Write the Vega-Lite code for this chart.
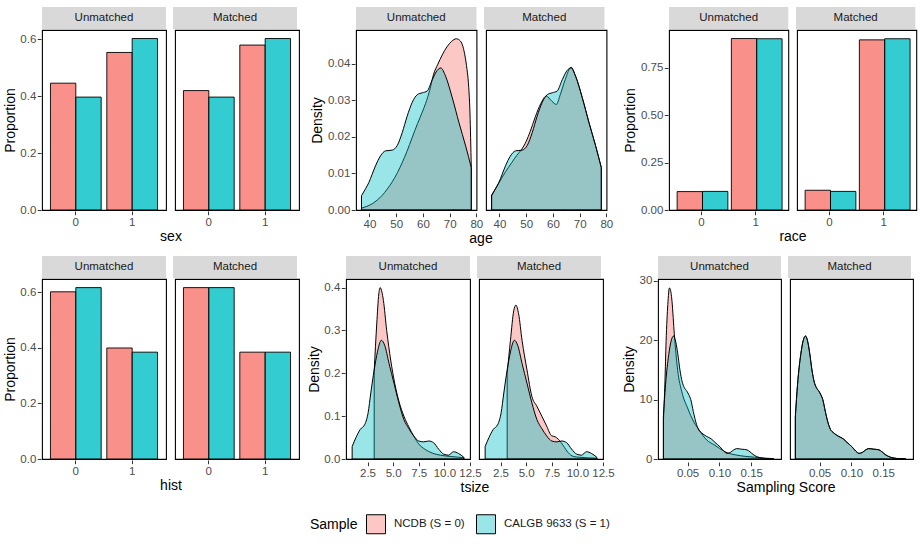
{
  "$schema": "https://vega.github.io/schema/vega-lite/v6.json",
  "padding": {"left": 3, "top": 7, "right": 3, "bottom": 3},
  "background": "white",
  "datasets": {
    "strips": [{"cond": "Unmatched"}, {"cond": "Matched"}],
    "bars": [
      {"v": "sex", "cond": "Unmatched", "val": "0", "s": "NCDB (S = 0)", "p": 0.446},
      {"v": "sex", "cond": "Unmatched", "val": "0", "s": "CALGB 9633 (S = 1)", "p": 0.397},
      {"v": "sex", "cond": "Unmatched", "val": "1", "s": "NCDB (S = 0)", "p": 0.554},
      {"v": "sex", "cond": "Unmatched", "val": "1", "s": "CALGB 9633 (S = 1)", "p": 0.603},
      {"v": "sex", "cond": "Matched", "val": "0", "s": "NCDB (S = 0)", "p": 0.42},
      {"v": "sex", "cond": "Matched", "val": "0", "s": "CALGB 9633 (S = 1)", "p": 0.397},
      {"v": "sex", "cond": "Matched", "val": "1", "s": "NCDB (S = 0)", "p": 0.58},
      {"v": "sex", "cond": "Matched", "val": "1", "s": "CALGB 9633 (S = 1)", "p": 0.603},
      {"v": "race", "cond": "Unmatched", "val": "0", "s": "NCDB (S = 0)", "p": 0.097},
      {"v": "race", "cond": "Unmatched", "val": "0", "s": "CALGB 9633 (S = 1)", "p": 0.098},
      {"v": "race", "cond": "Unmatched", "val": "1", "s": "NCDB (S = 0)", "p": 0.903},
      {"v": "race", "cond": "Unmatched", "val": "1", "s": "CALGB 9633 (S = 1)", "p": 0.902},
      {"v": "race", "cond": "Matched", "val": "0", "s": "NCDB (S = 0)", "p": 0.104},
      {"v": "race", "cond": "Matched", "val": "0", "s": "CALGB 9633 (S = 1)", "p": 0.098},
      {"v": "race", "cond": "Matched", "val": "1", "s": "NCDB (S = 0)", "p": 0.896},
      {"v": "race", "cond": "Matched", "val": "1", "s": "CALGB 9633 (S = 1)", "p": 0.902},
      {"v": "hist", "cond": "Unmatched", "val": "0", "s": "NCDB (S = 0)", "p": 0.601},
      {"v": "hist", "cond": "Unmatched", "val": "0", "s": "CALGB 9633 (S = 1)", "p": 0.616},
      {"v": "hist", "cond": "Unmatched", "val": "1", "s": "NCDB (S = 0)", "p": 0.399},
      {"v": "hist", "cond": "Unmatched", "val": "1", "s": "CALGB 9633 (S = 1)", "p": 0.384},
      {"v": "hist", "cond": "Matched", "val": "0", "s": "NCDB (S = 0)", "p": 0.616},
      {"v": "hist", "cond": "Matched", "val": "0", "s": "CALGB 9633 (S = 1)", "p": 0.616},
      {"v": "hist", "cond": "Matched", "val": "1", "s": "NCDB (S = 0)", "p": 0.384},
      {"v": "hist", "cond": "Matched", "val": "1", "s": "CALGB 9633 (S = 1)", "p": 0.384}
    ],
    "dens": [
      {"v": "age", "cond": "Unmatched", "s": "NCDB (S = 0)", "x": 37, "d": 0.0005},
      {"v": "age", "cond": "Unmatched", "s": "NCDB (S = 0)", "x": 39, "d": 0.001},
      {"v": "age", "cond": "Unmatched", "s": "NCDB (S = 0)", "x": 41, "d": 0.0017},
      {"v": "age", "cond": "Unmatched", "s": "NCDB (S = 0)", "x": 43, "d": 0.0028},
      {"v": "age", "cond": "Unmatched", "s": "NCDB (S = 0)", "x": 44.75, "d": 0.004},
      {"v": "age", "cond": "Unmatched", "s": "NCDB (S = 0)", "x": 46.6, "d": 0.0057},
      {"v": "age", "cond": "Unmatched", "s": "NCDB (S = 0)", "x": 48.5, "d": 0.0077},
      {"v": "age", "cond": "Unmatched", "s": "NCDB (S = 0)", "x": 50.5, "d": 0.0103},
      {"v": "age", "cond": "Unmatched", "s": "NCDB (S = 0)", "x": 52.25, "d": 0.013},
      {"v": "age", "cond": "Unmatched", "s": "NCDB (S = 0)", "x": 54, "d": 0.016},
      {"v": "age", "cond": "Unmatched", "s": "NCDB (S = 0)", "x": 56, "d": 0.0199},
      {"v": "age", "cond": "Unmatched", "s": "NCDB (S = 0)", "x": 58, "d": 0.0237},
      {"v": "age", "cond": "Unmatched", "s": "NCDB (S = 0)", "x": 59.75, "d": 0.0268},
      {"v": "age", "cond": "Unmatched", "s": "NCDB (S = 0)", "x": 61, "d": 0.0292},
      {"v": "age", "cond": "Unmatched", "s": "NCDB (S = 0)", "x": 62.5, "d": 0.0327},
      {"v": "age", "cond": "Unmatched", "s": "NCDB (S = 0)", "x": 64, "d": 0.0372},
      {"v": "age", "cond": "Unmatched", "s": "NCDB (S = 0)", "x": 65.5, "d": 0.0398},
      {"v": "age", "cond": "Unmatched", "s": "NCDB (S = 0)", "x": 67.25, "d": 0.0425},
      {"v": "age", "cond": "Unmatched", "s": "NCDB (S = 0)", "x": 69, "d": 0.0447},
      {"v": "age", "cond": "Unmatched", "s": "NCDB (S = 0)", "x": 70.75, "d": 0.0462},
      {"v": "age", "cond": "Unmatched", "s": "NCDB (S = 0)", "x": 72.5, "d": 0.0469},
      {"v": "age", "cond": "Unmatched", "s": "NCDB (S = 0)", "x": 74, "d": 0.0463},
      {"v": "age", "cond": "Unmatched", "s": "NCDB (S = 0)", "x": 75, "d": 0.0447},
      {"v": "age", "cond": "Unmatched", "s": "NCDB (S = 0)", "x": 75.75, "d": 0.0422},
      {"v": "age", "cond": "Unmatched", "s": "NCDB (S = 0)", "x": 76.5, "d": 0.0385},
      {"v": "age", "cond": "Unmatched", "s": "NCDB (S = 0)", "x": 77, "d": 0.035},
      {"v": "age", "cond": "Unmatched", "s": "NCDB (S = 0)", "x": 77.6, "d": 0.0266},
      {"v": "age", "cond": "Unmatched", "s": "NCDB (S = 0)", "x": 78.1, "d": 0.0116},
      {"v": "age", "cond": "Unmatched", "s": "CALGB 9633 (S = 1)", "x": 37, "d": 0.0039},
      {"v": "age", "cond": "Unmatched", "s": "CALGB 9633 (S = 1)", "x": 38.5, "d": 0.0058},
      {"v": "age", "cond": "Unmatched", "s": "CALGB 9633 (S = 1)", "x": 39.75, "d": 0.0075},
      {"v": "age", "cond": "Unmatched", "s": "CALGB 9633 (S = 1)", "x": 41, "d": 0.0098},
      {"v": "age", "cond": "Unmatched", "s": "CALGB 9633 (S = 1)", "x": 42.25, "d": 0.0121},
      {"v": "age", "cond": "Unmatched", "s": "CALGB 9633 (S = 1)", "x": 44.1, "d": 0.0148},
      {"v": "age", "cond": "Unmatched", "s": "CALGB 9633 (S = 1)", "x": 46, "d": 0.0162},
      {"v": "age", "cond": "Unmatched", "s": "CALGB 9633 (S = 1)", "x": 47.3, "d": 0.0163},
      {"v": "age", "cond": "Unmatched", "s": "CALGB 9633 (S = 1)", "x": 48.5, "d": 0.0164},
      {"v": "age", "cond": "Unmatched", "s": "CALGB 9633 (S = 1)", "x": 50.4, "d": 0.0177},
      {"v": "age", "cond": "Unmatched", "s": "CALGB 9633 (S = 1)", "x": 52.25, "d": 0.0212},
      {"v": "age", "cond": "Unmatched", "s": "CALGB 9633 (S = 1)", "x": 54.1, "d": 0.0257},
      {"v": "age", "cond": "Unmatched", "s": "CALGB 9633 (S = 1)", "x": 56, "d": 0.0295},
      {"v": "age", "cond": "Unmatched", "s": "CALGB 9633 (S = 1)", "x": 57.9, "d": 0.0316},
      {"v": "age", "cond": "Unmatched", "s": "CALGB 9633 (S = 1)", "x": 59.75, "d": 0.0321},
      {"v": "age", "cond": "Unmatched", "s": "CALGB 9633 (S = 1)", "x": 61.6, "d": 0.0326},
      {"v": "age", "cond": "Unmatched", "s": "CALGB 9633 (S = 1)", "x": 63.5, "d": 0.0357},
      {"v": "age", "cond": "Unmatched", "s": "CALGB 9633 (S = 1)", "x": 65.4, "d": 0.0383},
      {"v": "age", "cond": "Unmatched", "s": "CALGB 9633 (S = 1)", "x": 66.7, "d": 0.0389},
      {"v": "age", "cond": "Unmatched", "s": "CALGB 9633 (S = 1)", "x": 68.5, "d": 0.0366},
      {"v": "age", "cond": "Unmatched", "s": "CALGB 9633 (S = 1)", "x": 71, "d": 0.0307},
      {"v": "age", "cond": "Unmatched", "s": "CALGB 9633 (S = 1)", "x": 73.5, "d": 0.0239},
      {"v": "age", "cond": "Unmatched", "s": "CALGB 9633 (S = 1)", "x": 76, "d": 0.0175},
      {"v": "age", "cond": "Unmatched", "s": "CALGB 9633 (S = 1)", "x": 78.1, "d": 0.0116},
      {"v": "age", "cond": "Matched", "s": "NCDB (S = 0)", "x": 37.1, "d": 0.0041},
      {"v": "age", "cond": "Matched", "s": "NCDB (S = 0)", "x": 39.6, "d": 0.0072},
      {"v": "age", "cond": "Matched", "s": "NCDB (S = 0)", "x": 42.1, "d": 0.0103},
      {"v": "age", "cond": "Matched", "s": "NCDB (S = 0)", "x": 44.6, "d": 0.013},
      {"v": "age", "cond": "Matched", "s": "NCDB (S = 0)", "x": 46.5, "d": 0.015},
      {"v": "age", "cond": "Matched", "s": "NCDB (S = 0)", "x": 48.2, "d": 0.0165},
      {"v": "age", "cond": "Matched", "s": "NCDB (S = 0)", "x": 50, "d": 0.0188},
      {"v": "age", "cond": "Matched", "s": "NCDB (S = 0)", "x": 51.5, "d": 0.0215},
      {"v": "age", "cond": "Matched", "s": "NCDB (S = 0)", "x": 53.4, "d": 0.0255},
      {"v": "age", "cond": "Matched", "s": "NCDB (S = 0)", "x": 55.5, "d": 0.0292},
      {"v": "age", "cond": "Matched", "s": "NCDB (S = 0)", "x": 57.5, "d": 0.0312},
      {"v": "age", "cond": "Matched", "s": "NCDB (S = 0)", "x": 59.6, "d": 0.0298},
      {"v": "age", "cond": "Matched", "s": "NCDB (S = 0)", "x": 61.25, "d": 0.0289},
      {"v": "age", "cond": "Matched", "s": "NCDB (S = 0)", "x": 62.75, "d": 0.0316},
      {"v": "age", "cond": "Matched", "s": "NCDB (S = 0)", "x": 64.6, "d": 0.0357},
      {"v": "age", "cond": "Matched", "s": "NCDB (S = 0)", "x": 66.8, "d": 0.0391},
      {"v": "age", "cond": "Matched", "s": "NCDB (S = 0)", "x": 68.5, "d": 0.0366},
      {"v": "age", "cond": "Matched", "s": "NCDB (S = 0)", "x": 71, "d": 0.0307},
      {"v": "age", "cond": "Matched", "s": "NCDB (S = 0)", "x": 73.5, "d": 0.0239},
      {"v": "age", "cond": "Matched", "s": "NCDB (S = 0)", "x": 76, "d": 0.0175},
      {"v": "age", "cond": "Matched", "s": "NCDB (S = 0)", "x": 78.1, "d": 0.0116},
      {"v": "age", "cond": "Matched", "s": "CALGB 9633 (S = 1)", "x": 37, "d": 0.0039},
      {"v": "age", "cond": "Matched", "s": "CALGB 9633 (S = 1)", "x": 38.5, "d": 0.0058},
      {"v": "age", "cond": "Matched", "s": "CALGB 9633 (S = 1)", "x": 39.75, "d": 0.0075},
      {"v": "age", "cond": "Matched", "s": "CALGB 9633 (S = 1)", "x": 41, "d": 0.0098},
      {"v": "age", "cond": "Matched", "s": "CALGB 9633 (S = 1)", "x": 42.25, "d": 0.0121},
      {"v": "age", "cond": "Matched", "s": "CALGB 9633 (S = 1)", "x": 44.1, "d": 0.0148},
      {"v": "age", "cond": "Matched", "s": "CALGB 9633 (S = 1)", "x": 46, "d": 0.0162},
      {"v": "age", "cond": "Matched", "s": "CALGB 9633 (S = 1)", "x": 47.3, "d": 0.0163},
      {"v": "age", "cond": "Matched", "s": "CALGB 9633 (S = 1)", "x": 48.5, "d": 0.0164},
      {"v": "age", "cond": "Matched", "s": "CALGB 9633 (S = 1)", "x": 50.4, "d": 0.0177},
      {"v": "age", "cond": "Matched", "s": "CALGB 9633 (S = 1)", "x": 52.25, "d": 0.0212},
      {"v": "age", "cond": "Matched", "s": "CALGB 9633 (S = 1)", "x": 54.1, "d": 0.0257},
      {"v": "age", "cond": "Matched", "s": "CALGB 9633 (S = 1)", "x": 56, "d": 0.0295},
      {"v": "age", "cond": "Matched", "s": "CALGB 9633 (S = 1)", "x": 57.9, "d": 0.0316},
      {"v": "age", "cond": "Matched", "s": "CALGB 9633 (S = 1)", "x": 59.75, "d": 0.0321},
      {"v": "age", "cond": "Matched", "s": "CALGB 9633 (S = 1)", "x": 61.6, "d": 0.0326},
      {"v": "age", "cond": "Matched", "s": "CALGB 9633 (S = 1)", "x": 63.5, "d": 0.0357},
      {"v": "age", "cond": "Matched", "s": "CALGB 9633 (S = 1)", "x": 65.4, "d": 0.0383},
      {"v": "age", "cond": "Matched", "s": "CALGB 9633 (S = 1)", "x": 66.7, "d": 0.0389},
      {"v": "age", "cond": "Matched", "s": "CALGB 9633 (S = 1)", "x": 68.5, "d": 0.0366},
      {"v": "age", "cond": "Matched", "s": "CALGB 9633 (S = 1)", "x": 71, "d": 0.0307},
      {"v": "age", "cond": "Matched", "s": "CALGB 9633 (S = 1)", "x": 73.5, "d": 0.0239},
      {"v": "age", "cond": "Matched", "s": "CALGB 9633 (S = 1)", "x": 76, "d": 0.0175},
      {"v": "age", "cond": "Matched", "s": "CALGB 9633 (S = 1)", "x": 78.1, "d": 0.0116},

      {"v": "tsize", "cond": "Unmatched", "s": "NCDB (S = 0)", "x": 3.15, "d": 0.204},
      {"v": "tsize", "cond": "Unmatched", "s": "NCDB (S = 0)", "x": 3.4, "d": 0.315},
      {"v": "tsize", "cond": "Unmatched", "s": "NCDB (S = 0)", "x": 3.6, "d": 0.385},
      {"v": "tsize", "cond": "Unmatched", "s": "NCDB (S = 0)", "x": 3.73, "d": 0.4},
      {"v": "tsize", "cond": "Unmatched", "s": "NCDB (S = 0)", "x": 3.9, "d": 0.39},
      {"v": "tsize", "cond": "Unmatched", "s": "NCDB (S = 0)", "x": 4.05, "d": 0.37},
      {"v": "tsize", "cond": "Unmatched", "s": "NCDB (S = 0)", "x": 4.37, "d": 0.3},
      {"v": "tsize", "cond": "Unmatched", "s": "NCDB (S = 0)", "x": 4.76, "d": 0.231},
      {"v": "tsize", "cond": "Unmatched", "s": "NCDB (S = 0)", "x": 5.15, "d": 0.177},
      {"v": "tsize", "cond": "Unmatched", "s": "NCDB (S = 0)", "x": 5.56, "d": 0.135},
      {"v": "tsize", "cond": "Unmatched", "s": "NCDB (S = 0)", "x": 6.05, "d": 0.1},
      {"v": "tsize", "cond": "Unmatched", "s": "NCDB (S = 0)", "x": 6.53, "d": 0.075},
      {"v": "tsize", "cond": "Unmatched", "s": "NCDB (S = 0)", "x": 7.0, "d": 0.054},
      {"v": "tsize", "cond": "Unmatched", "s": "NCDB (S = 0)", "x": 7.5, "d": 0.035},
      {"v": "tsize", "cond": "Unmatched", "s": "NCDB (S = 0)", "x": 8.15, "d": 0.022},
      {"v": "tsize", "cond": "Unmatched", "s": "NCDB (S = 0)", "x": 8.8, "d": 0.014},
      {"v": "tsize", "cond": "Unmatched", "s": "NCDB (S = 0)", "x": 9.6, "d": 0.009},
      {"v": "tsize", "cond": "Unmatched", "s": "NCDB (S = 0)", "x": 10.56, "d": 0.006},
      {"v": "tsize", "cond": "Unmatched", "s": "NCDB (S = 0)", "x": 11.9, "d": 0.003},
      {"v": "tsize", "cond": "Unmatched", "s": "CALGB 9633 (S = 1)", "x": 1.0, "d": 0.029},
      {"v": "tsize", "cond": "Unmatched", "s": "CALGB 9633 (S = 1)", "x": 1.37, "d": 0.05},
      {"v": "tsize", "cond": "Unmatched", "s": "CALGB 9633 (S = 1)", "x": 1.79, "d": 0.069},
      {"v": "tsize", "cond": "Unmatched", "s": "CALGB 9633 (S = 1)", "x": 2.24, "d": 0.081},
      {"v": "tsize", "cond": "Unmatched", "s": "CALGB 9633 (S = 1)", "x": 2.56, "d": 0.108},
      {"v": "tsize", "cond": "Unmatched", "s": "CALGB 9633 (S = 1)", "x": 2.82, "d": 0.154},
      {"v": "tsize", "cond": "Unmatched", "s": "CALGB 9633 (S = 1)", "x": 3.15, "d": 0.208},
      {"v": "tsize", "cond": "Unmatched", "s": "CALGB 9633 (S = 1)", "x": 3.47, "d": 0.25},
      {"v": "tsize", "cond": "Unmatched", "s": "CALGB 9633 (S = 1)", "x": 3.85, "d": 0.277},
      {"v": "tsize", "cond": "Unmatched", "s": "CALGB 9633 (S = 1)", "x": 4.18, "d": 0.265},
      {"v": "tsize", "cond": "Unmatched", "s": "CALGB 9633 (S = 1)", "x": 4.6, "d": 0.223},
      {"v": "tsize", "cond": "Unmatched", "s": "CALGB 9633 (S = 1)", "x": 5.08, "d": 0.177},
      {"v": "tsize", "cond": "Unmatched", "s": "CALGB 9633 (S = 1)", "x": 5.56, "d": 0.131},
      {"v": "tsize", "cond": "Unmatched", "s": "CALGB 9633 (S = 1)", "x": 6.05, "d": 0.092},
      {"v": "tsize", "cond": "Unmatched", "s": "CALGB 9633 (S = 1)", "x": 6.53, "d": 0.071},
      {"v": "tsize", "cond": "Unmatched", "s": "CALGB 9633 (S = 1)", "x": 7.0, "d": 0.054},
      {"v": "tsize", "cond": "Unmatched", "s": "CALGB 9633 (S = 1)", "x": 7.5, "d": 0.042},
      {"v": "tsize", "cond": "Unmatched", "s": "CALGB 9633 (S = 1)", "x": 7.98, "d": 0.04},
      {"v": "tsize", "cond": "Unmatched", "s": "CALGB 9633 (S = 1)", "x": 8.47, "d": 0.042},
      {"v": "tsize", "cond": "Unmatched", "s": "CALGB 9633 (S = 1)", "x": 8.95, "d": 0.038},
      {"v": "tsize", "cond": "Unmatched", "s": "CALGB 9633 (S = 1)", "x": 9.44, "d": 0.023},
      {"v": "tsize", "cond": "Unmatched", "s": "CALGB 9633 (S = 1)", "x": 9.92, "d": 0.0115},
      {"v": "tsize", "cond": "Unmatched", "s": "CALGB 9633 (S = 1)", "x": 10.4, "d": 0.009},
      {"v": "tsize", "cond": "Unmatched", "s": "CALGB 9633 (S = 1)", "x": 10.9, "d": 0.017},
      {"v": "tsize", "cond": "Unmatched", "s": "CALGB 9633 (S = 1)", "x": 11.37, "d": 0.013},
      {"v": "tsize", "cond": "Unmatched", "s": "CALGB 9633 (S = 1)", "x": 11.9, "d": 0.004},
      {"v": "tsize", "cond": "Matched", "s": "NCDB (S = 0)", "x": 3.15, "d": 0.2},
      {"v": "tsize", "cond": "Matched", "s": "NCDB (S = 0)", "x": 3.47, "d": 0.277},
      {"v": "tsize", "cond": "Matched", "s": "NCDB (S = 0)", "x": 3.79, "d": 0.346},
      {"v": "tsize", "cond": "Matched", "s": "NCDB (S = 0)", "x": 4.0, "d": 0.359},
      {"v": "tsize", "cond": "Matched", "s": "NCDB (S = 0)", "x": 4.27, "d": 0.338},
      {"v": "tsize", "cond": "Matched", "s": "NCDB (S = 0)", "x": 4.6, "d": 0.277},
      {"v": "tsize", "cond": "Matched", "s": "NCDB (S = 0)", "x": 5.08, "d": 0.208},
      {"v": "tsize", "cond": "Matched", "s": "NCDB (S = 0)", "x": 5.56, "d": 0.146},
      {"v": "tsize", "cond": "Matched", "s": "NCDB (S = 0)", "x": 6.05, "d": 0.123},
      {"v": "tsize", "cond": "Matched", "s": "NCDB (S = 0)", "x": 6.53, "d": 0.1},
      {"v": "tsize", "cond": "Matched", "s": "NCDB (S = 0)", "x": 7.0, "d": 0.077},
      {"v": "tsize", "cond": "Matched", "s": "NCDB (S = 0)", "x": 7.5, "d": 0.054},
      {"v": "tsize", "cond": "Matched", "s": "NCDB (S = 0)", "x": 7.82, "d": 0.052},
      {"v": "tsize", "cond": "Matched", "s": "NCDB (S = 0)", "x": 8.15, "d": 0.046},
      {"v": "tsize", "cond": "Matched", "s": "NCDB (S = 0)", "x": 8.63, "d": 0.031},
      {"v": "tsize", "cond": "Matched", "s": "NCDB (S = 0)", "x": 9.1, "d": 0.015},
      {"v": "tsize", "cond": "Matched", "s": "NCDB (S = 0)", "x": 9.6, "d": 0.006},
      {"v": "tsize", "cond": "Matched", "s": "NCDB (S = 0)", "x": 10.24, "d": 0.004},
      {"v": "tsize", "cond": "Matched", "s": "NCDB (S = 0)", "x": 11.9, "d": 0.002},
      {"v": "tsize", "cond": "Matched", "s": "CALGB 9633 (S = 1)", "x": 1.0, "d": 0.029},
      {"v": "tsize", "cond": "Matched", "s": "CALGB 9633 (S = 1)", "x": 1.37, "d": 0.05},
      {"v": "tsize", "cond": "Matched", "s": "CALGB 9633 (S = 1)", "x": 1.79, "d": 0.069},
      {"v": "tsize", "cond": "Matched", "s": "CALGB 9633 (S = 1)", "x": 2.24, "d": 0.081},
      {"v": "tsize", "cond": "Matched", "s": "CALGB 9633 (S = 1)", "x": 2.56, "d": 0.108},
      {"v": "tsize", "cond": "Matched", "s": "CALGB 9633 (S = 1)", "x": 2.82, "d": 0.154},
      {"v": "tsize", "cond": "Matched", "s": "CALGB 9633 (S = 1)", "x": 3.15, "d": 0.208},
      {"v": "tsize", "cond": "Matched", "s": "CALGB 9633 (S = 1)", "x": 3.47, "d": 0.25},
      {"v": "tsize", "cond": "Matched", "s": "CALGB 9633 (S = 1)", "x": 3.85, "d": 0.277},
      {"v": "tsize", "cond": "Matched", "s": "CALGB 9633 (S = 1)", "x": 4.18, "d": 0.265},
      {"v": "tsize", "cond": "Matched", "s": "CALGB 9633 (S = 1)", "x": 4.6, "d": 0.223},
      {"v": "tsize", "cond": "Matched", "s": "CALGB 9633 (S = 1)", "x": 5.08, "d": 0.177},
      {"v": "tsize", "cond": "Matched", "s": "CALGB 9633 (S = 1)", "x": 5.56, "d": 0.131},
      {"v": "tsize", "cond": "Matched", "s": "CALGB 9633 (S = 1)", "x": 6.05, "d": 0.092},
      {"v": "tsize", "cond": "Matched", "s": "CALGB 9633 (S = 1)", "x": 6.53, "d": 0.071},
      {"v": "tsize", "cond": "Matched", "s": "CALGB 9633 (S = 1)", "x": 7.0, "d": 0.054},
      {"v": "tsize", "cond": "Matched", "s": "CALGB 9633 (S = 1)", "x": 7.5, "d": 0.042},
      {"v": "tsize", "cond": "Matched", "s": "CALGB 9633 (S = 1)", "x": 7.98, "d": 0.04},
      {"v": "tsize", "cond": "Matched", "s": "CALGB 9633 (S = 1)", "x": 8.47, "d": 0.042},
      {"v": "tsize", "cond": "Matched", "s": "CALGB 9633 (S = 1)", "x": 8.95, "d": 0.038},
      {"v": "tsize", "cond": "Matched", "s": "CALGB 9633 (S = 1)", "x": 9.44, "d": 0.023},
      {"v": "tsize", "cond": "Matched", "s": "CALGB 9633 (S = 1)", "x": 9.92, "d": 0.0115},
      {"v": "tsize", "cond": "Matched", "s": "CALGB 9633 (S = 1)", "x": 10.4, "d": 0.009},
      {"v": "tsize", "cond": "Matched", "s": "CALGB 9633 (S = 1)", "x": 10.9, "d": 0.017},
      {"v": "tsize", "cond": "Matched", "s": "CALGB 9633 (S = 1)", "x": 11.37, "d": 0.013},
      {"v": "tsize", "cond": "Matched", "s": "CALGB 9633 (S = 1)", "x": 11.9, "d": 0.004},

      {"v": "score", "cond": "Unmatched", "s": "NCDB (S = 0)", "x": 0.0122, "d": 6.6},
      {"v": "score", "cond": "Unmatched", "s": "NCDB (S = 0)", "x": 0.0145, "d": 13},
      {"v": "score", "cond": "Unmatched", "s": "NCDB (S = 0)", "x": 0.0163, "d": 19.8},
      {"v": "score", "cond": "Unmatched", "s": "NCDB (S = 0)", "x": 0.019, "d": 26},
      {"v": "score", "cond": "Unmatched", "s": "NCDB (S = 0)", "x": 0.0215, "d": 28.8},
      {"v": "score", "cond": "Unmatched", "s": "NCDB (S = 0)", "x": 0.024, "d": 28},
      {"v": "score", "cond": "Unmatched", "s": "NCDB (S = 0)", "x": 0.0256, "d": 26.5},
      {"v": "score", "cond": "Unmatched", "s": "NCDB (S = 0)", "x": 0.0293, "d": 20.9},
      {"v": "score", "cond": "Unmatched", "s": "NCDB (S = 0)", "x": 0.0345, "d": 14.9},
      {"v": "score", "cond": "Unmatched", "s": "NCDB (S = 0)", "x": 0.041, "d": 11.3},
      {"v": "score", "cond": "Unmatched", "s": "NCDB (S = 0)", "x": 0.05, "d": 8.6},
      {"v": "score", "cond": "Unmatched", "s": "NCDB (S = 0)", "x": 0.06, "d": 6.2},
      {"v": "score", "cond": "Unmatched", "s": "NCDB (S = 0)", "x": 0.068, "d": 4.9},
      {"v": "score", "cond": "Unmatched", "s": "NCDB (S = 0)", "x": 0.08, "d": 3.2},
      {"v": "score", "cond": "Unmatched", "s": "NCDB (S = 0)", "x": 0.0915, "d": 2.4},
      {"v": "score", "cond": "Unmatched", "s": "NCDB (S = 0)", "x": 0.1, "d": 1.8},
      {"v": "score", "cond": "Unmatched", "s": "NCDB (S = 0)", "x": 0.112, "d": 1.05},
      {"v": "score", "cond": "Unmatched", "s": "NCDB (S = 0)", "x": 0.125, "d": 0.7},
      {"v": "score", "cond": "Unmatched", "s": "NCDB (S = 0)", "x": 0.14, "d": 0.45},
      {"v": "score", "cond": "Unmatched", "s": "NCDB (S = 0)", "x": 0.155, "d": 0.3},
      {"v": "score", "cond": "Unmatched", "s": "NCDB (S = 0)", "x": 0.17, "d": 0.15},
      {"v": "score", "cond": "Unmatched", "s": "NCDB (S = 0)", "x": 0.185, "d": 0.05},
      {"v": "score", "cond": "Unmatched", "s": "CALGB 9633 (S = 1)", "x": 0.012, "d": 7.1},
      {"v": "score", "cond": "Unmatched", "s": "CALGB 9633 (S = 1)", "x": 0.0155, "d": 12.6},
      {"v": "score", "cond": "Unmatched", "s": "CALGB 9633 (S = 1)", "x": 0.0205, "d": 17.6},
      {"v": "score", "cond": "Unmatched", "s": "CALGB 9633 (S = 1)", "x": 0.0245, "d": 20.0},
      {"v": "score", "cond": "Unmatched", "s": "CALGB 9633 (S = 1)", "x": 0.028, "d": 20.7},
      {"v": "score", "cond": "Unmatched", "s": "CALGB 9633 (S = 1)", "x": 0.0315, "d": 19.7},
      {"v": "score", "cond": "Unmatched", "s": "CALGB 9633 (S = 1)", "x": 0.0345, "d": 17.8},
      {"v": "score", "cond": "Unmatched", "s": "CALGB 9633 (S = 1)", "x": 0.038, "d": 15.0},
      {"v": "score", "cond": "Unmatched", "s": "CALGB 9633 (S = 1)", "x": 0.0415, "d": 13.0},
      {"v": "score", "cond": "Unmatched", "s": "CALGB 9633 (S = 1)", "x": 0.045, "d": 12.0},
      {"v": "score", "cond": "Unmatched", "s": "CALGB 9633 (S = 1)", "x": 0.049, "d": 11.4},
      {"v": "score", "cond": "Unmatched", "s": "CALGB 9633 (S = 1)", "x": 0.052, "d": 10.8},
      {"v": "score", "cond": "Unmatched", "s": "CALGB 9633 (S = 1)", "x": 0.055, "d": 10.0},
      {"v": "score", "cond": "Unmatched", "s": "CALGB 9633 (S = 1)", "x": 0.059, "d": 8.0},
      {"v": "score", "cond": "Unmatched", "s": "CALGB 9633 (S = 1)", "x": 0.063, "d": 6.2},
      {"v": "score", "cond": "Unmatched", "s": "CALGB 9633 (S = 1)", "x": 0.067, "d": 5.0},
      {"v": "score", "cond": "Unmatched", "s": "CALGB 9633 (S = 1)", "x": 0.072, "d": 4.4},
      {"v": "score", "cond": "Unmatched", "s": "CALGB 9633 (S = 1)", "x": 0.08, "d": 3.8},
      {"v": "score", "cond": "Unmatched", "s": "CALGB 9633 (S = 1)", "x": 0.087, "d": 3.4},
      {"v": "score", "cond": "Unmatched", "s": "CALGB 9633 (S = 1)", "x": 0.093, "d": 2.8},
      {"v": "score", "cond": "Unmatched", "s": "CALGB 9633 (S = 1)", "x": 0.1013, "d": 2.0},
      {"v": "score", "cond": "Unmatched", "s": "CALGB 9633 (S = 1)", "x": 0.107, "d": 1.3},
      {"v": "score", "cond": "Unmatched", "s": "CALGB 9633 (S = 1)", "x": 0.112, "d": 0.95},
      {"v": "score", "cond": "Unmatched", "s": "CALGB 9633 (S = 1)", "x": 0.117, "d": 1.1},
      {"v": "score", "cond": "Unmatched", "s": "CALGB 9633 (S = 1)", "x": 0.122, "d": 1.5},
      {"v": "score", "cond": "Unmatched", "s": "CALGB 9633 (S = 1)", "x": 0.127, "d": 1.75},
      {"v": "score", "cond": "Unmatched", "s": "CALGB 9633 (S = 1)", "x": 0.135, "d": 1.65},
      {"v": "score", "cond": "Unmatched", "s": "CALGB 9633 (S = 1)", "x": 0.143, "d": 1.55},
      {"v": "score", "cond": "Unmatched", "s": "CALGB 9633 (S = 1)", "x": 0.148, "d": 1.2},
      {"v": "score", "cond": "Unmatched", "s": "CALGB 9633 (S = 1)", "x": 0.153, "d": 0.75},
      {"v": "score", "cond": "Unmatched", "s": "CALGB 9633 (S = 1)", "x": 0.16, "d": 0.35},
      {"v": "score", "cond": "Unmatched", "s": "CALGB 9633 (S = 1)", "x": 0.167, "d": 0.15},
      {"v": "score", "cond": "Unmatched", "s": "CALGB 9633 (S = 1)", "x": 0.175, "d": 0.06},
      {"v": "score", "cond": "Unmatched", "s": "CALGB 9633 (S = 1)", "x": 0.185, "d": 0.02},
      {"v": "score", "cond": "Matched", "s": "NCDB (S = 0)", "x": 0.012, "d": 7.1},
      {"v": "score", "cond": "Matched", "s": "NCDB (S = 0)", "x": 0.0155, "d": 12.6},
      {"v": "score", "cond": "Matched", "s": "NCDB (S = 0)", "x": 0.0205, "d": 17.6},
      {"v": "score", "cond": "Matched", "s": "NCDB (S = 0)", "x": 0.0245, "d": 20.0},
      {"v": "score", "cond": "Matched", "s": "NCDB (S = 0)", "x": 0.028, "d": 20.7},
      {"v": "score", "cond": "Matched", "s": "NCDB (S = 0)", "x": 0.0315, "d": 19.7},
      {"v": "score", "cond": "Matched", "s": "NCDB (S = 0)", "x": 0.0345, "d": 17.8},
      {"v": "score", "cond": "Matched", "s": "NCDB (S = 0)", "x": 0.038, "d": 15.0},
      {"v": "score", "cond": "Matched", "s": "NCDB (S = 0)", "x": 0.0415, "d": 13.0},
      {"v": "score", "cond": "Matched", "s": "NCDB (S = 0)", "x": 0.045, "d": 12.0},
      {"v": "score", "cond": "Matched", "s": "NCDB (S = 0)", "x": 0.049, "d": 11.4},
      {"v": "score", "cond": "Matched", "s": "NCDB (S = 0)", "x": 0.052, "d": 10.8},
      {"v": "score", "cond": "Matched", "s": "NCDB (S = 0)", "x": 0.055, "d": 10.0},
      {"v": "score", "cond": "Matched", "s": "NCDB (S = 0)", "x": 0.059, "d": 8.0},
      {"v": "score", "cond": "Matched", "s": "NCDB (S = 0)", "x": 0.063, "d": 6.2},
      {"v": "score", "cond": "Matched", "s": "NCDB (S = 0)", "x": 0.067, "d": 5.0},
      {"v": "score", "cond": "Matched", "s": "NCDB (S = 0)", "x": 0.072, "d": 4.4},
      {"v": "score", "cond": "Matched", "s": "NCDB (S = 0)", "x": 0.08, "d": 3.8},
      {"v": "score", "cond": "Matched", "s": "NCDB (S = 0)", "x": 0.087, "d": 3.4},
      {"v": "score", "cond": "Matched", "s": "NCDB (S = 0)", "x": 0.093, "d": 2.8},
      {"v": "score", "cond": "Matched", "s": "NCDB (S = 0)", "x": 0.1013, "d": 2.0},
      {"v": "score", "cond": "Matched", "s": "NCDB (S = 0)", "x": 0.107, "d": 1.3},
      {"v": "score", "cond": "Matched", "s": "NCDB (S = 0)", "x": 0.112, "d": 0.95},
      {"v": "score", "cond": "Matched", "s": "NCDB (S = 0)", "x": 0.117, "d": 1.1},
      {"v": "score", "cond": "Matched", "s": "NCDB (S = 0)", "x": 0.122, "d": 1.5},
      {"v": "score", "cond": "Matched", "s": "NCDB (S = 0)", "x": 0.127, "d": 1.75},
      {"v": "score", "cond": "Matched", "s": "NCDB (S = 0)", "x": 0.135, "d": 1.65},
      {"v": "score", "cond": "Matched", "s": "NCDB (S = 0)", "x": 0.143, "d": 1.55},
      {"v": "score", "cond": "Matched", "s": "NCDB (S = 0)", "x": 0.148, "d": 1.2},
      {"v": "score", "cond": "Matched", "s": "NCDB (S = 0)", "x": 0.153, "d": 0.75},
      {"v": "score", "cond": "Matched", "s": "NCDB (S = 0)", "x": 0.16, "d": 0.35},
      {"v": "score", "cond": "Matched", "s": "NCDB (S = 0)", "x": 0.167, "d": 0.15},
      {"v": "score", "cond": "Matched", "s": "NCDB (S = 0)", "x": 0.175, "d": 0.06},
      {"v": "score", "cond": "Matched", "s": "NCDB (S = 0)", "x": 0.185, "d": 0.02},
      {"v": "score", "cond": "Matched", "s": "CALGB 9633 (S = 1)", "x": 0.012, "d": 7.1},
      {"v": "score", "cond": "Matched", "s": "CALGB 9633 (S = 1)", "x": 0.0155, "d": 12.6},
      {"v": "score", "cond": "Matched", "s": "CALGB 9633 (S = 1)", "x": 0.0205, "d": 17.6},
      {"v": "score", "cond": "Matched", "s": "CALGB 9633 (S = 1)", "x": 0.0245, "d": 20.0},
      {"v": "score", "cond": "Matched", "s": "CALGB 9633 (S = 1)", "x": 0.028, "d": 20.7},
      {"v": "score", "cond": "Matched", "s": "CALGB 9633 (S = 1)", "x": 0.0315, "d": 19.7},
      {"v": "score", "cond": "Matched", "s": "CALGB 9633 (S = 1)", "x": 0.0345, "d": 17.8},
      {"v": "score", "cond": "Matched", "s": "CALGB 9633 (S = 1)", "x": 0.038, "d": 15.0},
      {"v": "score", "cond": "Matched", "s": "CALGB 9633 (S = 1)", "x": 0.0415, "d": 13.0},
      {"v": "score", "cond": "Matched", "s": "CALGB 9633 (S = 1)", "x": 0.045, "d": 12.0},
      {"v": "score", "cond": "Matched", "s": "CALGB 9633 (S = 1)", "x": 0.049, "d": 11.4},
      {"v": "score", "cond": "Matched", "s": "CALGB 9633 (S = 1)", "x": 0.052, "d": 10.8},
      {"v": "score", "cond": "Matched", "s": "CALGB 9633 (S = 1)", "x": 0.055, "d": 10.0},
      {"v": "score", "cond": "Matched", "s": "CALGB 9633 (S = 1)", "x": 0.059, "d": 8.0},
      {"v": "score", "cond": "Matched", "s": "CALGB 9633 (S = 1)", "x": 0.063, "d": 6.2},
      {"v": "score", "cond": "Matched", "s": "CALGB 9633 (S = 1)", "x": 0.067, "d": 5.0},
      {"v": "score", "cond": "Matched", "s": "CALGB 9633 (S = 1)", "x": 0.072, "d": 4.4},
      {"v": "score", "cond": "Matched", "s": "CALGB 9633 (S = 1)", "x": 0.08, "d": 3.8},
      {"v": "score", "cond": "Matched", "s": "CALGB 9633 (S = 1)", "x": 0.087, "d": 3.4},
      {"v": "score", "cond": "Matched", "s": "CALGB 9633 (S = 1)", "x": 0.093, "d": 2.8},
      {"v": "score", "cond": "Matched", "s": "CALGB 9633 (S = 1)", "x": 0.1013, "d": 2.0},
      {"v": "score", "cond": "Matched", "s": "CALGB 9633 (S = 1)", "x": 0.107, "d": 1.3},
      {"v": "score", "cond": "Matched", "s": "CALGB 9633 (S = 1)", "x": 0.112, "d": 0.95},
      {"v": "score", "cond": "Matched", "s": "CALGB 9633 (S = 1)", "x": 0.117, "d": 1.1},
      {"v": "score", "cond": "Matched", "s": "CALGB 9633 (S = 1)", "x": 0.122, "d": 1.5},
      {"v": "score", "cond": "Matched", "s": "CALGB 9633 (S = 1)", "x": 0.127, "d": 1.75},
      {"v": "score", "cond": "Matched", "s": "CALGB 9633 (S = 1)", "x": 0.135, "d": 1.65},
      {"v": "score", "cond": "Matched", "s": "CALGB 9633 (S = 1)", "x": 0.143, "d": 1.55},
      {"v": "score", "cond": "Matched", "s": "CALGB 9633 (S = 1)", "x": 0.148, "d": 1.2},
      {"v": "score", "cond": "Matched", "s": "CALGB 9633 (S = 1)", "x": 0.153, "d": 0.75},
      {"v": "score", "cond": "Matched", "s": "CALGB 9633 (S = 1)", "x": 0.16, "d": 0.35},
      {"v": "score", "cond": "Matched", "s": "CALGB 9633 (S = 1)", "x": 0.167, "d": 0.15},
      {"v": "score", "cond": "Matched", "s": "CALGB 9633 (S = 1)", "x": 0.175, "d": 0.06},
      {"v": "score", "cond": "Matched", "s": "CALGB 9633 (S = 1)", "x": 0.185, "d": 0.02}
    ]
  },
  "spacing": 10,
  "vconcat": [
    {
      "spacing": 10,
      "hconcat": [
        {
          "spacing": 0,
          "vconcat": [
            {
              "data": {"name": "strips"},
              "facet": {"column": {"field": "cond", "type": "nominal", "sort": ["Unmatched", "Matched"], "header": null}},
              "spacing": 7,
              "spec": {"width": 124, "height": 22, "view": {"fill": "#D9D9D9", "stroke": null}, "mark": {"type": "text", "fontSize": 11.5, "color": "#1A1A1A"},
                "encoding": {"text": {"field": "cond", "type": "nominal"},
                  "y": {"datum": 0.5, "type": "quantitative", "scale": {"domain": [0, 1], "nice": false}, "axis": {"values": [0.5], "labelExpr": "'0.6'", "labelColor": "transparent", "tickColor": "transparent", "title": "P", "titleColor": "transparent"}}}}
            },
            {
              "data": {"name": "bars"},
              "transform": [{"filter": "datum.v === 'sex'"}],
              "facet": {"column": {"field": "cond", "type": "nominal", "sort": ["Unmatched", "Matched"], "title": "sex", "header": {"labels": false, "titleOrient": "bottom"}}},
              "spacing": 7,
              "spec": {
                "width": 124, "height": 180,
                "mark": {"type": "bar", "fillOpacity": 0.8, "stroke": "black", "strokeWidth": 0.9},
                "encoding": {
                  "x": {"field": "val", "type": "nominal", "scale": {"paddingInner": 0.1, "paddingOuter": 0.15}, "axis": {"title": null, "labelAngle": 0}},
                  "xOffset": {"field": "s", "type": "nominal", "sort": ["NCDB (S = 0)", "CALGB 9633 (S = 1)"], "scale": {"paddingInner": 0, "paddingOuter": 0}},
                  "y": {"field": "p", "type": "quantitative", "scale": {"domain": [0, 0.633], "nice": false}, "axis": {"title": "Proportion", "values": [0, 0.2, 0.4, 0.6], "format": ".1f"}},
                  "color": {"field": "s", "type": "nominal", "title": "Sample", "scale": {"domain": ["NCDB (S = 0)", "CALGB 9633 (S = 1)"], "range": ["#F8766D", "#00BFC4"]}, "legend": {"encode": {"symbols": {"update": {"fillOpacity": {"value": 0.4}, "strokeOpacity": {"value": 1}}}}}}
                }
              }
            }
          ]
        },
        {
          "spacing": 0,
          "vconcat": [
            {
              "data": {"name": "strips"},
              "facet": {"column": {"field": "cond", "type": "nominal", "sort": ["Unmatched", "Matched"], "header": null}},
              "spacing": 7,
              "spec": {"width": 120.5, "height": 22, "view": {"fill": "#D9D9D9", "stroke": null}, "mark": {"type": "text", "fontSize": 11.5, "color": "#1A1A1A"},
                "encoding": {"text": {"field": "cond", "type": "nominal"},
                  "y": {"datum": 0.5, "type": "quantitative", "scale": {"domain": [0, 1], "nice": false}, "axis": {"values": [0.5], "labelExpr": "'0.04'", "labelColor": "transparent", "tickColor": "transparent", "title": "D", "titleColor": "transparent"}}}}
            },
            {
              "data": {"name": "dens"},
              "transform": [{"filter": "datum.v === 'age'"}],
              "facet": {"column": {"field": "cond", "type": "nominal", "sort": ["Unmatched", "Matched"], "title": "age", "header": {"labels": false, "titleOrient": "bottom"}}},
              "spacing": 7,
              "spec": {
                "width": 120.5, "height": 180,
                "mark": {"type": "area", "interpolate": "monotone", "fillOpacity": 0.4, "stroke": "black", "strokeWidth": 1},
                "encoding": {
                  "x": {"field": "x", "type": "quantitative", "scale": {"domain": [34.95, 80.05], "nice": false, "zero": false}, "axis": {"title": null, "values": [40, 50, 60, 70, 80], "format": "d"}},
                  "y": {"field": "d", "type": "quantitative", "stack": null, "scale": {"domain": [0, 0.0493], "nice": false}, "axis": {"title": "Density", "values": [0, 0.01, 0.02, 0.03, 0.04], "format": ".2f"}},
                  "color": {"field": "s", "type": "nominal", "title": "Sample", "scale": {"domain": ["NCDB (S = 0)", "CALGB 9633 (S = 1)"], "range": ["#F8766D", "#00BFC4"]}, "legend": {"encode": {"symbols": {"update": {"fillOpacity": {"value": 0.4}, "strokeOpacity": {"value": 1}}}}}}
                }
              }
            }
          ]
        },
        {
          "spacing": 0,
          "vconcat": [
            {
              "data": {"name": "strips"},
              "facet": {"column": {"field": "cond", "type": "nominal", "sort": ["Unmatched", "Matched"], "header": null}},
              "spacing": 7,
              "spec": {"width": 119.3, "height": 22, "view": {"fill": "#D9D9D9", "stroke": null}, "mark": {"type": "text", "fontSize": 11.5, "color": "#1A1A1A"},
                "encoding": {"text": {"field": "cond", "type": "nominal"},
                  "y": {"datum": 0.5, "type": "quantitative", "scale": {"domain": [0, 1], "nice": false}, "axis": {"values": [0.5], "labelExpr": "'0.75'", "labelColor": "transparent", "tickColor": "transparent", "title": "P", "titleColor": "transparent"}}}}
            },
            {
              "data": {"name": "bars"},
              "transform": [{"filter": "datum.v === 'race'"}],
              "facet": {"column": {"field": "cond", "type": "nominal", "sort": ["Unmatched", "Matched"], "title": "race", "header": {"labels": false, "titleOrient": "bottom"}}},
              "spacing": 7,
              "spec": {
                "width": 119.3, "height": 180,
                "mark": {"type": "bar", "fillOpacity": 0.8, "stroke": "black", "strokeWidth": 0.9},
                "encoding": {
                  "x": {"field": "val", "type": "nominal", "scale": {"paddingInner": 0.1, "paddingOuter": 0.15}, "axis": {"title": null, "labelAngle": 0}},
                  "xOffset": {"field": "s", "type": "nominal", "sort": ["NCDB (S = 0)", "CALGB 9633 (S = 1)"], "scale": {"paddingInner": 0, "paddingOuter": 0}},
                  "y": {"field": "p", "type": "quantitative", "scale": {"domain": [0, 0.948], "nice": false}, "axis": {"title": "Proportion", "values": [0, 0.25, 0.5, 0.75], "format": ".2f"}},
                  "color": {"field": "s", "type": "nominal", "title": "Sample", "scale": {"domain": ["NCDB (S = 0)", "CALGB 9633 (S = 1)"], "range": ["#F8766D", "#00BFC4"]}, "legend": {"encode": {"symbols": {"update": {"fillOpacity": {"value": 0.4}, "strokeOpacity": {"value": 1}}}}}}
                }
              }
            }
          ]
        }
      ]
    },
    {
      "spacing": 7,
      "hconcat": [
        {
          "spacing": 0,
          "vconcat": [
            {
              "data": {"name": "strips"},
              "facet": {"column": {"field": "cond", "type": "nominal", "sort": ["Unmatched", "Matched"], "header": null}},
              "spacing": 7,
              "spec": {"width": 124, "height": 22, "view": {"fill": "#D9D9D9", "stroke": null}, "mark": {"type": "text", "fontSize": 11.5, "color": "#1A1A1A"},
                "encoding": {"text": {"field": "cond", "type": "nominal"},
                  "y": {"datum": 0.5, "type": "quantitative", "scale": {"domain": [0, 1], "nice": false}, "axis": {"values": [0.5], "labelExpr": "'0.6'", "labelColor": "transparent", "tickColor": "transparent", "title": "P", "titleColor": "transparent"}}}}
            },
            {
              "data": {"name": "bars"},
              "transform": [{"filter": "datum.v === 'hist'"}],
              "facet": {"column": {"field": "cond", "type": "nominal", "sort": ["Unmatched", "Matched"], "title": "hist", "header": {"labels": false, "titleOrient": "bottom"}}},
              "spacing": 7,
              "spec": {
                "width": 124, "height": 180,
                "mark": {"type": "bar", "fillOpacity": 0.8, "stroke": "black", "strokeWidth": 0.9},
                "encoding": {
                  "x": {"field": "val", "type": "nominal", "scale": {"paddingInner": 0.1, "paddingOuter": 0.15}, "axis": {"title": null, "labelAngle": 0}},
                  "xOffset": {"field": "s", "type": "nominal", "sort": ["NCDB (S = 0)", "CALGB 9633 (S = 1)"], "scale": {"paddingInner": 0, "paddingOuter": 0}},
                  "y": {"field": "p", "type": "quantitative", "scale": {"domain": [0, 0.647], "nice": false}, "axis": {"title": "Proportion", "values": [0, 0.2, 0.4, 0.6], "format": ".1f"}},
                  "color": {"field": "s", "type": "nominal", "title": "Sample", "scale": {"domain": ["NCDB (S = 0)", "CALGB 9633 (S = 1)"], "range": ["#F8766D", "#00BFC4"]}, "legend": {"encode": {"symbols": {"update": {"fillOpacity": {"value": 0.4}, "strokeOpacity": {"value": 1}}}}}}
                }
              }
            }
          ]
        },
        {
          "spacing": 0,
          "vconcat": [
            {
              "data": {"name": "strips"},
              "facet": {"column": {"field": "cond", "type": "nominal", "sort": ["Unmatched", "Matched"], "header": null}},
              "spacing": 7,
              "spec": {"width": 124, "height": 22, "view": {"fill": "#D9D9D9", "stroke": null}, "mark": {"type": "text", "fontSize": 11.5, "color": "#1A1A1A"},
                "encoding": {"text": {"field": "cond", "type": "nominal"},
                  "y": {"datum": 0.5, "type": "quantitative", "scale": {"domain": [0, 1], "nice": false}, "axis": {"values": [0.5], "labelExpr": "'0.4'", "labelColor": "transparent", "tickColor": "transparent", "title": "D", "titleColor": "transparent"}}}}
            },
            {
              "data": {"name": "dens"},
              "transform": [{"filter": "datum.v === 'tsize'"}],
              "facet": {"column": {"field": "cond", "type": "nominal", "sort": ["Unmatched", "Matched"], "title": "tsize", "header": {"labels": false, "titleOrient": "bottom"}}},
              "spacing": 7,
              "spec": {
                "width": 124, "height": 180,
                "mark": {"type": "area", "interpolate": "monotone", "fillOpacity": 0.4, "stroke": "black", "strokeWidth": 1},
                "encoding": {
                  "x": {"field": "x", "type": "quantitative", "scale": {"domain": [0.4, 12.5], "nice": false, "zero": false}, "axis": {"title": null, "values": [2.5, 5, 7.5, 10, 12.5], "format": ".1f"}},
                  "y": {"field": "d", "type": "quantitative", "stack": null, "scale": {"domain": [0, 0.42], "nice": false}, "axis": {"title": "Density", "values": [0, 0.1, 0.2, 0.3, 0.4], "format": ".1f"}},
                  "color": {"field": "s", "type": "nominal", "title": "Sample", "scale": {"domain": ["NCDB (S = 0)", "CALGB 9633 (S = 1)"], "range": ["#F8766D", "#00BFC4"]}, "legend": {"encode": {"symbols": {"update": {"fillOpacity": {"value": 0.4}, "strokeOpacity": {"value": 1}}}}}}
                }
              }
            }
          ]
        },
        {
          "spacing": -4,
          "vconcat": [
            {
              "data": {"name": "strips"},
              "facet": {"column": {"field": "cond", "type": "nominal", "sort": ["Unmatched", "Matched"], "header": null}},
              "spacing": 7,
              "spec": {"width": 123, "height": 22, "view": {"fill": "#D9D9D9", "stroke": null}, "mark": {"type": "text", "fontSize": 11.5, "color": "#1A1A1A"},
                "encoding": {"text": {"field": "cond", "type": "nominal"},
                  "y": {"datum": 0.5, "type": "quantitative", "scale": {"domain": [0, 1], "nice": false}, "axis": {"values": [0.5], "labelExpr": "'30'", "labelColor": "transparent", "tickColor": "transparent", "title": "D", "titleColor": "transparent"}}}}
            },
            {
              "data": {"name": "dens"},
              "transform": [{"filter": "datum.v === 'score'"}],
              "facet": {"column": {"field": "cond", "type": "nominal", "sort": ["Unmatched", "Matched"], "title": "Sampling Score", "header": {"labels": false, "titleOrient": "bottom"}}},
              "spacing": 7,
              "spec": {
                "width": 123, "height": 180,
                "mark": {"type": "area", "interpolate": "monotone", "fillOpacity": 0.4, "stroke": "black", "strokeWidth": 1},
                "encoding": {
                  "x": {"field": "x", "type": "quantitative", "scale": {"domain": [0.0036, 0.1966], "nice": false, "zero": false}, "axis": {"title": null, "values": [0.05, 0.1, 0.15], "format": ".2f"}},
                  "y": {"field": "d", "type": "quantitative", "stack": null, "scale": {"domain": [0, 30.3], "nice": false}, "axis": {"title": "Density", "values": [0, 10, 20, 30], "format": "d"}},
                  "color": {"field": "s", "type": "nominal", "title": "Sample", "scale": {"domain": ["NCDB (S = 0)", "CALGB 9633 (S = 1)"], "range": ["#F8766D", "#00BFC4"]}, "legend": {"encode": {"symbols": {"update": {"fillOpacity": {"value": 0.4}, "strokeOpacity": {"value": 1}}}}}}
                }
              }
            }
          ]
        }
      ]
    }
  ],
  "config": {
    "font": "Liberation Sans",
    "view": {"stroke": "black", "strokeWidth": 1.1},
    "axis": {"domain": false, "grid": false, "tickColor": "#333333", "tickSize": 3.7, "tickWidth": 1, "labelColor": "#4D4D4D", "labelFontSize": 11.5, "labelPadding": 1.5, "titleFontSize": 14, "titleFontWeight": "normal", "titleColor": "black", "labelFlush": false, "labelOverlap": false},
    "axisY": {"titlePadding": 2.5},
    "header": {"titleFontSize": 14, "titleFontWeight": "normal", "titleColor": "black", "titlePadding": -8},
    "legend": {
      "orient": "none", "legendX": 268, "legendY": 507, "direction": "horizontal",
      "titleOrient": "left", "titleFontSize": 14, "titleFontWeight": "normal", "titleColor": "black", "titleBaseline": "middle", "titlePadding": 8,
      "symbolType": "square", "symbolSize": 361, "symbolStrokeColor": "black", "symbolStrokeWidth": 1,
      "labelFontSize": 11.5, "labelColor": "#1A1A1A", "labelOffset": 8, "columnPadding": 9
    }
  }
}
